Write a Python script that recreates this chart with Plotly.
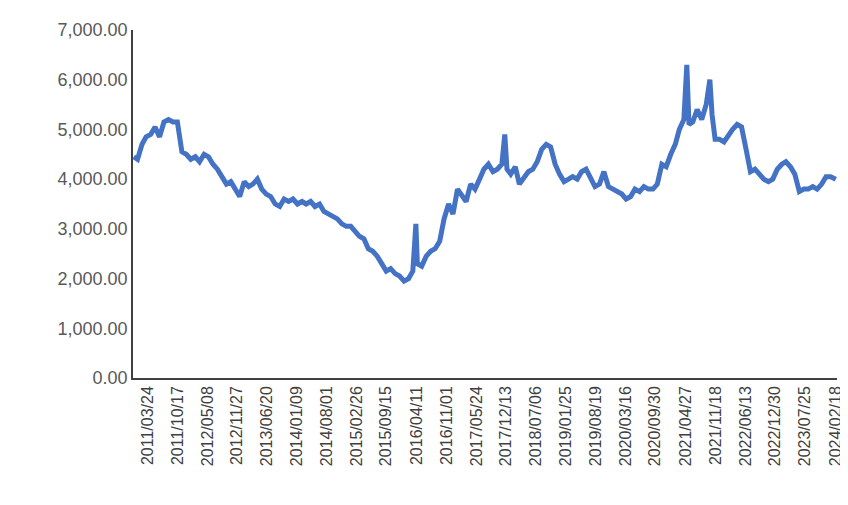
import plotly.graph_objects as go

dates = [
    "2010-12-20", "2011-01-15", "2011-02-15", "2011-03-15", "2011-04-15", "2011-05-15", "2011-06-15",
    "2011-07-15", "2011-08-15", "2011-09-15", "2011-10-15", "2011-11-15", "2011-12-15",
    "2012-01-15", "2012-02-15", "2012-03-15", "2012-04-15", "2012-05-15", "2012-06-15",
    "2012-07-15", "2012-08-15", "2012-09-15", "2012-10-15", "2012-11-15", "2012-12-15",
    "2013-01-15", "2013-02-15", "2013-03-15", "2013-04-15", "2013-05-15", "2013-06-15",
    "2013-07-15", "2013-08-15", "2013-09-15", "2013-10-15", "2013-11-15", "2013-12-15",
    "2014-01-15", "2014-02-15", "2014-03-15", "2014-04-15", "2014-05-15", "2014-06-15",
    "2014-07-15", "2014-08-15", "2014-09-15", "2014-10-15", "2014-11-15", "2014-12-15",
    "2015-01-15", "2015-02-15", "2015-03-15", "2015-04-15", "2015-05-15", "2015-06-15",
    "2015-07-15", "2015-08-15", "2015-09-15", "2015-10-15", "2015-11-15", "2015-12-15",
    "2016-01-15", "2016-02-15", "2016-03-15", "2016-04-05", "2016-04-15", "2016-05-15",
    "2016-06-15", "2016-07-15", "2016-08-15", "2016-09-15", "2016-10-15", "2016-11-15",
    "2016-12-15", "2017-01-15", "2017-02-15", "2017-03-15", "2017-04-15", "2017-05-15",
    "2017-06-15", "2017-07-15", "2017-08-15", "2017-09-15", "2017-10-15", "2017-11-15",
    "2017-12-05", "2017-12-20", "2018-01-15", "2018-02-15", "2018-03-15", "2018-04-15",
    "2018-05-15", "2018-06-15", "2018-07-15", "2018-08-15", "2018-09-15", "2018-10-15",
    "2018-11-15", "2018-12-15", "2019-01-15", "2019-02-15", "2019-03-15", "2019-04-15",
    "2019-05-15", "2019-06-15", "2019-07-15", "2019-08-15", "2019-09-15", "2019-10-15",
    "2019-11-15", "2019-12-15", "2020-01-15", "2020-02-15", "2020-03-15", "2020-04-15",
    "2020-05-15", "2020-06-15", "2020-07-15", "2020-08-15", "2020-09-15", "2020-10-15",
    "2020-11-15", "2020-12-15", "2021-01-15", "2021-02-15", "2021-03-15", "2021-04-15",
    "2021-05-05", "2021-05-20", "2021-06-15", "2021-07-15", "2021-08-15", "2021-09-15",
    "2021-10-10", "2021-10-25", "2021-11-15", "2021-12-15", "2022-01-15", "2022-02-15",
    "2022-03-15", "2022-04-15", "2022-05-15", "2022-06-15", "2022-07-15", "2022-08-15",
    "2022-09-15", "2022-10-15", "2022-11-15", "2022-12-15", "2023-01-15", "2023-02-15",
    "2023-03-15", "2023-04-15", "2023-05-15", "2023-06-15", "2023-07-15", "2023-08-15",
    "2023-09-15", "2023-10-15", "2023-11-15", "2023-12-15", "2024-01-15", "2024-02-20",
]
prices = [
    4450, 4400, 4700, 4850, 4900, 5050, 4850,
    5150, 5200, 5150, 5150, 4550, 4500,
    4400, 4450, 4350, 4500, 4450, 4300,
    4200, 4050, 3900, 3950, 3800, 3650,
    3950, 3850, 3900, 4000, 3800, 3700,
    3650, 3500, 3450, 3600, 3550, 3600,
    3500, 3550, 3500, 3550, 3450, 3500,
    3350, 3300, 3250, 3200, 3100, 3050,
    3050, 2950, 2850, 2800, 2600, 2550,
    2450, 2300, 2150, 2200, 2100, 2050,
    1950, 2000, 2150, 3100, 2300, 2250,
    2450, 2550, 2600, 2750, 3200, 3500,
    3300, 3800, 3650, 3550, 3900, 3800,
    4000, 4200, 4300, 4150, 4200, 4300,
    4900, 4200, 4100, 4250, 3900, 4050,
    4150, 4200, 4350, 4600, 4700, 4650,
    4300, 4100, 3950, 4000, 4050, 4000,
    4150, 4200, 4000, 3850, 3900, 4150,
    3850, 3800, 3750, 3700, 3600, 3650,
    3800, 3750, 3850, 3800, 3800, 3900,
    4300, 4250, 4500, 4700, 5000, 5200,
    6300, 5100, 5150, 5400, 5200, 5500,
    6000, 5300, 4800, 4800, 4750, 4900,
    5000, 5100, 5050, 4600, 4150, 4200,
    4100, 4000, 3950, 4000, 4200, 4300,
    4350, 4250, 4100, 3750, 3800, 3800,
    3850, 3800, 3900, 4050, 4050, 4000,
]
tick_labels = [
    "2011/03/24", "2011/10/17", "2012/05/08", "2012/11/27", "2013/06/20", "2014/01/09",
    "2014/08/01", "2015/02/26", "2015/09/15", "2016/04/11", "2016/11/01", "2017/05/24",
    "2017/12/13", "2018/07/06", "2019/01/25", "2019/08/19", "2020/03/16", "2020/09/30",
    "2021/04/27", "2021/11/18", "2022/06/13", "2022/12/30", "2023/07/25", "2024/02/18",
]
tick_vals = [t.replace("/", "-") for t in tick_labels]

fig = go.Figure()
fig.add_trace(go.Scatter(x=dates, y=prices, mode="lines",
                         line=dict(color="#4472C4", width=5)))

fig.update_layout(
    width=848, height=505,
    margin=dict(l=125, r=14, t=20, b=135),
    plot_bgcolor="white", paper_bgcolor="white",
    showlegend=False,
    font=dict(family="Liberation Sans, Arial", size=16, color="#595959"),
)
fig.update_xaxes(
    type="date", range=["2010-12-15", "2024-02-28"],
    tickvals=tick_vals, ticktext=tick_labels, tickangle=-90,
    showgrid=False, showline=True, linecolor="#404040", linewidth=1.5,
    ticks="", tickfont=dict(color="#404040", size=16),
)
fig.update_yaxes(
    range=[0, 7000], dtick=1000, tickformat=",.2f",
    showgrid=False, showline=True, linecolor="#404040", linewidth=1.5,
    ticks="", zeroline=False, tickfont=dict(color="#595959", size=18),
)

fig.write_html("out.html")
